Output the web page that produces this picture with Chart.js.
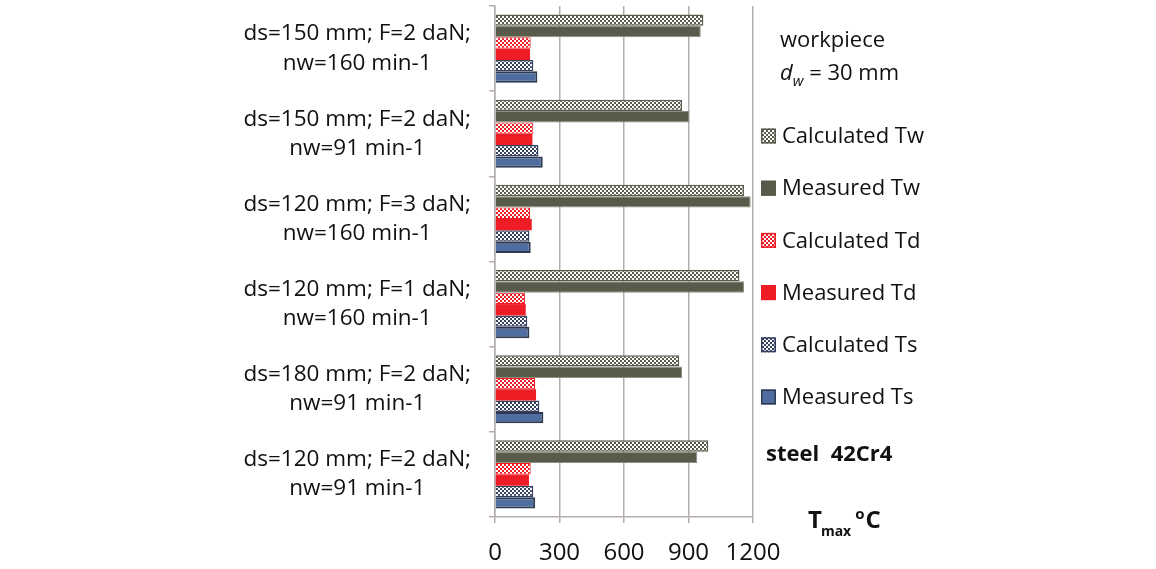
<!DOCTYPE html>
<html>
<head>
<meta charset="utf-8">
<script src="https://cdn.jsdelivr.net/npm/chart.js@4.4.1/dist/chart.umd.min.js"></script>
<style>
  html, body { margin: 0; padding: 0; background: #fff; }
  #wrap { width: 1156px; height: 569px; }
</style>
</head>
<body>
<div id="wrap"><canvas id="tempChart" width="1156" height="569"></canvas></div>
<script>
// categories (top to bottom)
var categories = [
    ["ds=150 mm; F=2 daN;", "nw=160 min-1"],
    ["ds=150 mm; F=2 daN;", "nw=91 min-1"],
    ["ds=120 mm; F=3 daN;", "nw=160 min-1"],
    ["ds=120 mm; F=1 daN;", "nw=160 min-1"],
    ["ds=180 mm; F=2 daN;", "nw=91 min-1"],
    ["ds=120 mm; F=2 daN;", "nw=91 min-1"]
];

// max temperatures, deg C
var calcTw = [969, 870, 1158, 1137, 857, 992];
var measTw = [957, 904, 1189, 1158, 870, 941];
var calcTd = [166, 178, 163, 140, 186, 166];
var measTd = [163, 174, 171, 143, 191, 158];
var calcTs = [178, 202, 160, 150, 206, 178];
var measTs = [197, 222, 166, 160, 225, 187];

var xTicks = [0, 300, 600, 900, 1200];

var fontName = "'Open Sans', 'Noto Sans', sans-serif";

// small checker tile for the "calculated" series
function checker(color) {
    var c = document.createElement('canvas');
    c.width = 4; c.height = 4;
    var g = c.getContext('2d');
    g.fillStyle = '#ffffff';
    g.fillRect(0, 0, 4, 4);
    g.fillStyle = color;
    g.fillRect(0, 0, 2, 2);
    g.fillRect(2, 2, 2, 2);
    return g.createPattern(c, 'repeat');
}

var olive = '#585b4a';
var red = '#ee1c25';
var blue = '#4f6d9e';
var navy = '#34405e';

// legend drawn next to the plot, from the datasets
var sideLegend = {
    id: 'sideLegend',
    afterDraw: function(chart) {
        var ctx = chart.ctx;
        ctx.save();
        ctx.font = '22px ' + fontName;
        ctx.textBaseline = 'middle';
        ctx.textAlign = 'left';
        chart.data.datasets.forEach(function(ds, i) {
            var y = 136 + i * 52.2;
            ctx.fillStyle = ds.backgroundColor;
            ctx.fillRect(761, y - 7.5, 15, 15);
            ctx.lineWidth = 1.5;
            ctx.strokeStyle = ds.legendBorder;
            ctx.strokeRect(761.75, y - 6.75, 13.5, 13.5);
            ctx.fillStyle = '#111';
            ctx.fillText(ds.label, 782, y + 1);
        });
        ctx.restore();
    }
};

// side notes: workpiece, material, axis unit
var notes = {
    id: 'notes',
    afterDraw: function(chart) {
        var ctx = chart.ctx;
        ctx.save();
        ctx.fillStyle = '#111';
        ctx.textBaseline = 'alphabetic';
        ctx.textAlign = 'left';
        ctx.font = '22px ' + fontName;
        ctx.fillText('workpiece', 780, 47);
        ctx.font = 'italic 22px ' + fontName;
        ctx.fillText('d', 780, 80);
        var w = ctx.measureText('d').width;
        ctx.font = 'italic 15px ' + fontName;
        ctx.fillText('w', 780 + w, 86);
        var w2 = ctx.measureText('w').width;
        ctx.font = '22px ' + fontName;
        ctx.fillText(' = 30 mm', 780 + w + w2, 80);

        ctx.font = 'bold 22px ' + fontName;
        ctx.fillText('steel  42Cr4', 766, 461);

        var x = 808;
        ctx.font = 'bold 24px ' + fontName;
        ctx.fillText('T', x, 528);
        x += ctx.measureText('T').width - 1;
        ctx.font = 'bold 14px ' + fontName;
        ctx.fillText('max', x, 536);
        x += ctx.measureText('max').width + 4;
        ctx.font = 'bold 15px ' + fontName;
        ctx.fillText('o', x, 519);
        x += ctx.measureText('o').width + 1;
        ctx.font = 'bold 24px ' + fontName;
        ctx.fillText('C', x, 528);
        ctx.restore();
    }
};

var ctx = document.getElementById('tempChart').getContext('2d');

new Chart(ctx, {
    type: 'bar',
    data: {
        labels: categories,
        datasets: [
            { label: 'Calculated Tw', data: calcTw, backgroundColor: checker(olive), borderColor: olive, borderWidth: 1.5, legendBorder: olive },
            { label: 'Measured Tw', data: measTw, backgroundColor: olive, borderColor: '#8d8f80', borderWidth: 1, legendBorder: olive },
            { label: 'Calculated Td', data: calcTd, backgroundColor: checker(red), borderColor: red, borderWidth: 1, legendBorder: red },
            { label: 'Measured Td', data: measTd, backgroundColor: red, borderColor: red, borderWidth: 0, legendBorder: red },
            { label: 'Calculated Ts', data: calcTs, backgroundColor: checker(navy), borderColor: navy, borderWidth: 1.5, legendBorder: navy },
            { label: 'Measured Ts', data: measTs, backgroundColor: blue, borderColor: '#2c3950', borderWidth: 2, legendBorder: '#2c3950' }
        ]
    },
    options: {
        indexAxis: 'y',
        responsive: false,
        animation: false,
        devicePixelRatio: 1,
        categoryPercentage: 0.8,
        barPercentage: 1.0,
        layout: {
            padding: { top: 6, right: 403, left: 0, bottom: 0 }
        },
        plugins: {
            legend: { display: false },
            tooltip: { enabled: false }
        },
        scales: {
            x: {
                min: 0,
                max: 1200,
                afterFit: function(scale) {
                    scale.height = 52;
                    scale.paddingLeft = 0;
                    scale.paddingRight = 0;
                },
                afterBuildTicks: function(scale) {
                    scale.ticks = xTicks.map(function(v) { return { value: v }; });
                },
                grid: {
                    color: '#b5adad',
                    lineWidth: 1.5,
                    tickLength: 6
                },
                border: { color: '#b5adad', width: 1.5 },
                ticks: {
                    padding: 16,
                    maxRotation: 0,
                    minRotation: 0,
                    autoSkip: false,
                    color: '#111',
                    font: { family: fontName, size: 24 },
                    callback: function(value) { return String(value); }
                }
            },
            y: {
                afterFit: function(scale) {
                    scale.width = 495;
                    scale.paddingTop = 0;
                    scale.paddingBottom = 0;
                },
                grid: {
                    drawOnChartArea: false,
                    color: '#b5adad',
                    lineWidth: 1.5,
                    tickLength: 6
                },
                border: { color: '#b5adad', width: 1.5 },
                ticks: {
                    crossAlign: 'center',
                    padding: 18,
                    color: '#111',
                    font: { family: fontName, size: 22.5, lineHeight: 1.3 }
                }
            }
        }
    },
    plugins: [sideLegend, notes]
});
</script>
</body>
</html>
